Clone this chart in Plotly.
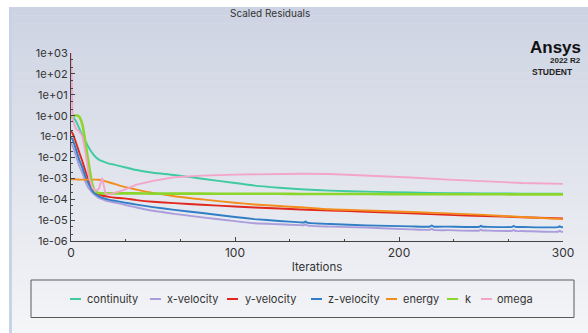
import plotly.graph_objects as go

# ---------------- data ----------------
iters = [0, 1, 3, 5, 7, 9, 11, 13, 15, 17, 19, 21, 23, 27, 32, 40, 50, 63, 80,
         100, 112, 127, 140, 158, 180, 207, 230, 252, 275, 300]

continuity = [1.0, 0.89, 0.56, 0.25, 0.112, 5.6e-2, 2.8e-2, 1.6e-2, 1.05e-2, 7.9e-3,
              6.6e-3, 5.75e-3, 5.1e-3, 4.4e-3, 3.5e-3, 2.5e-3, 1.86e-3, 1.45e-3, 9.5e-4,
              6.0e-4, 4.5e-4, 3.55e-4, 3.0e-4, 2.57e-4, 2.3e-4, 2.1e-4, 1.95e-4, 1.9e-4,
              1.86e-4, 1.82e-4]

y_velocity = [0.178, 0.141, 5.2e-2, 1.78e-2, 6.3e-3, 2.0e-3, 7.1e-4, 3.3e-4, 2.24e-4,
              1.74e-4, 1.51e-4, 1.38e-4, 1.29e-4, 1.17e-4, 1.1e-4, 9.1e-5, 7.6e-5, 6.5e-5,
              5.4e-5, 4.5e-5, 4.0e-5, 3.6e-5, 3.2e-5, 2.9e-5, 2.5e-5, 2.1e-5, 1.78e-5,
              1.58e-5, 1.38e-5, 1.2e-5]

energy = [8.9e-4, 8.9e-4, 8.9e-4, 8.7e-4, 8.7e-4, 8.7e-4, 8.7e-4, 8.7e-4, 8.7e-4, 8.5e-4,
          7.9e-4, 7.2e-4, 6.5e-4, 5.25e-4, 4.0e-4, 2.9e-4, 2.0e-4, 1.38e-4, 9.8e-5,
          6.8e-5, 5.6e-5, 4.7e-5, 4.1e-5, 3.3e-5, 2.9e-5, 2.45e-5, 2.1e-5, 1.78e-5,
          1.41e-5, 1.12e-5]

k = [0.79, 0.89, 1.05, 0.89, 0.355, 4.0e-2, 4.0e-3, 5.0e-4, 2.3e-4, 2.0e-4,
     1.9e-4, 1.9e-4, 1.9e-4, 1.9e-4, 1.9e-4, 1.9e-4, 1.86e-4, 1.86e-4, 1.86e-4,
     1.82e-4, 1.82e-4, 1.82e-4, 1.78e-4, 1.78e-4, 1.78e-4, 1.74e-4, 1.74e-4, 1.74e-4,
     1.7e-4, 1.7e-4]

omega = [1000, 0.63, 0.24, 0.178, 0.1, 1.4e-2, 1.12e-3, 3.55e-4, 2.5e-4, 3.16e-4,
         1.05e-3, 1.9e-4, 1.66e-4, 2.1e-4, 2.75e-4, 5.0e-4, 7.6e-4, 1.12e-3, 1.35e-3,
         1.51e-3, 1.58e-3, 1.62e-3, 1.66e-3, 1.62e-3, 1.38e-3, 1.1e-3, 8.7e-4, 7.1e-4,
         6.0e-4, 5.4e-4]

vel_iters = [0, 1, 3, 5, 7, 9, 11, 13, 15, 17, 19, 21, 23, 27, 32, 40, 50, 63, 80,
             100, 112, 127, 140, 142, 143, 144, 158, 180, 207, 219, 220, 221, 230,
             249, 250, 251, 252, 269, 270, 271, 275, 297, 298, 299, 300]

z_velocity = [8.9e-2, 7.1e-2, 2.5e-2, 7.9e-3, 3.16e-3, 1.12e-3, 5.0e-4, 2.5e-4, 1.78e-4,
              1.38e-4, 1.17e-4, 1.05e-4, 9.5e-5, 8.3e-5, 7.1e-5, 5.5e-5, 4.2e-5, 3.1e-5,
              2.2e-5, 1.41e-5, 1.12e-5, 9.1e-6, 7.8e-6, 7.7e-6, 8.6e-6, 7.6e-6, 6.5e-6,
              5.6e-6, 5.0e-6, 4.95e-6, 5.6e-6, 4.9e-6, 4.9e-6, 4.8e-6, 5.4e-6, 4.8e-6,
              4.8e-6, 4.75e-6, 5.3e-6, 4.7e-6, 4.7e-6, 4.6e-6, 5.1e-6, 4.6e-6, 4.6e-6]

x_velocity = [5.0e-2, 3.55e-2, 1.26e-2, 4.0e-3, 1.78e-3, 6.3e-4, 3.16e-4, 2.1e-4, 1.51e-4,
              1.17e-4, 1.0e-4, 8.7e-5, 7.9e-5, 6.9e-5, 5.6e-5, 4.0e-5, 2.8e-5, 2.0e-5,
              1.35e-5, 8.9e-6, 7.1e-6, 6.3e-6, 5.75e-6, 5.7e-6, 6.3e-6, 5.65e-6, 4.9e-6,
              4.4e-6, 3.6e-6, 3.45e-6, 3.9e-6, 3.4e-6, 3.3e-6, 3.17e-6, 3.55e-6, 3.16e-6,
              3.16e-6, 3.05e-6, 3.4e-6, 3.0e-6, 3.0e-6, 2.77e-6, 3.1e-6, 2.76e-6, 2.75e-6]

series_names = ["continuity", "x-velocity", "y-velocity", "z-velocity", "energy", "k", "omega"]
y_tick_vals = [1e-6, 1e-5, 1e-4, 1e-3, 1e-2, 1e-1, 1e0, 1e1, 1e2, 1e3]
y_tick_text = ["1e-06", "1e-05", "1e-04", "1e-03", "1e-02", "1e-01", "1e+00", "1e+01", "1e+02", "1e+03"]
x_tick_vals = [0, 100, 200, 300]

# ---------------- styling ----------------
W, H = 588, 333
L, R, T, B = 71, 563, 53, 241  # plot area in pixels
FONT = "Inter"


def px(xp):
    return (xp - L) / (R - L)


def py(yp):
    return (B - yp) / (B - T)


colors = {
    "continuity": "#3fcaa2",
    "x-velocity": "#ab9ddc",
    "y-velocity": "#e2281e",
    "z-velocity": "#2f7ec6",
    "energy": "#f28e1e",
    "k": "#8ad62c",
    "omega": "#f3a5c9",
}
widths = {"k": 2.6}

data_map = {
    "continuity": (iters, continuity),
    "x-velocity": (vel_iters, x_velocity),
    "y-velocity": (iters, y_velocity),
    "z-velocity": (vel_iters, z_velocity),
    "energy": (iters, energy),
    "k": (iters, k),
    "omega": (iters, omega),
}

fig = go.Figure()
for name in series_names:
    xs, ys = data_map[name]
    fig.add_trace(go.Scatter(
        x=xs, y=ys, mode="lines", name=name, showlegend=False,
        line=dict(color=colors[name], width=widths.get(name, 1.9),
                  shape="linear" if name == "omega" else "spline", smoothing=0.6),
        hoverinfo="skip",
    ))

shapes = []
# background gradient panel
top_c = (205, 211, 226)
bot_c = (244, 245, 247)
y0p, y1p = 7, 333
nb = 40
for i in range(nb):
    a = y0p + (y1p - y0p) * i / nb
    b = y0p + (y1p - y0p) * (i + 1) / nb
    t = (i + 0.5) / nb
    c = tuple(int(round(top_c[j] + (bot_c[j] - top_c[j]) * t)) for j in range(3))
    shapes.append(dict(type="rect", xref="paper", yref="paper", layer="below",
                       x0=px(9), x1=px(589), y0=py(b + 0.5), y1=py(a),
                       fillcolor="rgb(%d,%d,%d)" % c, line=dict(width=0)))
# left border strip
shapes.append(dict(type="rect", xref="paper", yref="paper", layer="below",
                   x0=px(9), x1=px(12), y0=py(333), y1=py(7),
                   fillcolor="#c9d3e8", line=dict(width=0)))
# legend box
shapes.append(dict(type="rect", xref="paper", yref="paper",
                   x0=px(31), x1=px(574), y0=py(317.5), y1=py(280),
                   line=dict(color="#5a5a5a", width=1), fillcolor="rgba(0,0,0,0)"))

legend_pos = {
    "continuity": (70, 85),
    "x-velocity": (150, 165),
    "y-velocity": (227, 243),
    "z-velocity": (311, 326),
    "energy": (386, 401),
    "k": (447, 463),
    "omega": (481, 495),
}
annotations = []
for name in series_names:
    lx, tx = legend_pos[name]
    shapes.append(dict(type="line", xref="paper", yref="paper",
                       x0=px(lx), x1=px(lx + 11), y0=py(299), y1=py(299),
                       line=dict(color=colors[name], width=2)))
    annotations.append(dict(text=name, xref="paper", yref="paper", x=px(tx), y=py(298.5),
                            xanchor="left", yanchor="middle", showarrow=False,
                            font=dict(size=11, color="#333333")))

annotations += [
    dict(text="Scaled Residuals", xref="paper", yref="paper", x=px(270), y=py(13),
         xanchor="center", yanchor="middle", showarrow=False,
         font=dict(size=10, color="#333333")),
    dict(text="<b>Ansys</b>", xref="paper", yref="paper", x=px(583), y=py(47),
         xanchor="right", yanchor="middle", showarrow=False,
         font=dict(size=17, color="#111111", family="Liberation Sans")),
    dict(text="<b>2022 R2</b>", xref="paper", yref="paper", x=px(583), y=py(60),
         xanchor="right", yanchor="middle", showarrow=False,
         font=dict(size=8, color="#222222", family="Liberation Sans")),
    dict(text="<b>STUDENT</b>", xref="paper", yref="paper", x=px(575), y=py(72),
         xanchor="right", yanchor="middle", showarrow=False,
         font=dict(size=8.5, color="#222222", family="Liberation Sans")),
]

fig.update_layout(
    width=W, height=H,
    margin=dict(l=L, r=W - R, t=T, b=H - B, pad=0),
    paper_bgcolor="white",
    plot_bgcolor="rgba(0,0,0,0)",
    font=dict(family=FONT, size=11, color="#333333"),
    showlegend=False,
    shapes=shapes,
    annotations=annotations,
    xaxis=dict(
        range=[0, 300], tickvals=x_tick_vals, ticks="inside", ticklen=4,
        tickcolor="#444444", showgrid=False, zeroline=False,
        showline=True, linecolor="#444444", linewidth=1.2,
        tickfont=dict(size=12, color="#333333"),
        minor=dict(dtick=100 / 3, ticks="inside", ticklen=2, tickcolor="#444444", showgrid=False),
        title=dict(text="Iterations", standoff=4, font=dict(size=11.5, color="#333333")),
        automargin=False,
    ),
    yaxis=dict(
        type="log", range=[-6, 3], tickvals=y_tick_vals, ticktext=y_tick_text,
        ticks="inside", ticklen=4, tickcolor="#444444",
        showgrid=False, zeroline=False, showline=True, linecolor="#444444", linewidth=1.2,
        tickfont=dict(size=11, color="#333333"),
        minor=dict(ticks="inside", ticklen=2, tickcolor="#444444", showgrid=False),
        automargin=False,
    ),
)

fig.write_html(
    "out.html",
    config={"displayModeBar": False},
    post_script="document.body.style.margin='0';document.body.style.overflow='hidden';",
)
